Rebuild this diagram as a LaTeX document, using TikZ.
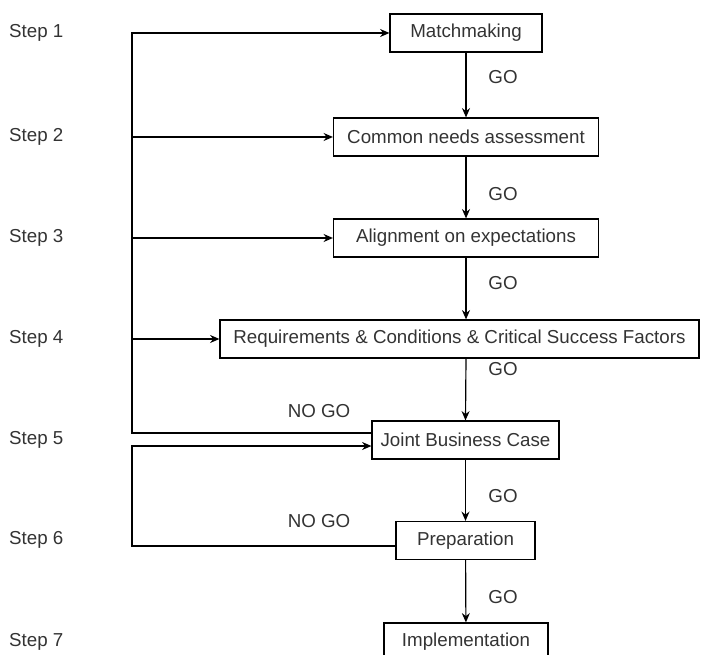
\documentclass[tikz,border=0pt]{standalone}
\usepackage{fontspec}
\setmainfont{Liberation Sans}
\usetikzlibrary{arrows, arrows.meta, positioning}
\tikzstyle{arrow} = [line width=1pt,->,>={Stealth[length=2.8mm,width=2.4mm]}]
\tikzstyle{stagebox} = [draw, line width=1pt, rectangle, minimum height=1.14cm, inner sep=0pt]

\begin{document}
\begin{tikzpicture}[x=0.03cm, y=-0.03cm, font=\fontsize{16}{19}\selectfont, text=black!80]
\useasboundingbox (0,0) rectangle (702,655);

% Step labels
\node[anchor=west, inner sep=0pt] (s1) at (9,33) {Step 1};
\node[anchor=west, inner sep=0pt] (s2) at (9,137) {Step 2};
\node[anchor=west, inner sep=0pt] (s3) at (9,238) {Step 3};
\node[anchor=west, inner sep=0pt] (s4) at (9,339) {Step 4};
\node[anchor=west, inner sep=0pt] (s5) at (9,440) {Step 5};
\node[anchor=west, inner sep=0pt] (s6) at (9,540) {Step 6};
\node[anchor=west, inner sep=0pt] (s7) at (9,642) {Step 7};

% Stages
\node[stagebox, minimum width=4.56cm] (match) at (466,33) {Matchmaking};
\node[stagebox, minimum width=7.95cm] (common) at (466,137) {Common needs assessment};
\node[stagebox, minimum width=7.95cm] (align) at (466,238) {Alignment on expectations};
\node[stagebox, minimum width=14.37cm] (req) at (459.5,339) {Requirements \& Conditions \& Critical Success Factors};
\node[stagebox, minimum width=5.61cm] (joint) at (465.5,440) {Joint Business Case};
\node[stagebox, minimum width=4.17cm] (prep) at (465.5,540.5) {Preparation};
\node[stagebox, minimum width=4.92cm] (impl) at (466,642) {Implementation};

% GO arrows
\draw[arrow] (match) -- (common);
\draw[arrow] (common) -- (align);
\draw[arrow] (align.south) -- (align.south |- req.north);
\draw[arrow] (align.south |- req.south) -- (joint.north);
\draw[arrow] (joint) -- (prep);
\draw[arrow] (prep) -- (impl);

\node (go1) at (503,77) {GO};
\node (go2) at (503,194) {GO};
\node (go3) at (503,283) {GO};
\node (go4) at (503,369) {GO};
\node (go5) at (503,496) {GO};
\node (go6) at (503,597) {GO};

% Feedback lines on the left
\coordinate (top) at (132,33);
\coordinate (nogoA) at (132,433);
\coordinate (backB) at (132,446);
\coordinate (nogoB) at (132,546);

\draw[arrow] (joint.west |- nogoA) -- (nogoA) -- (top) -- (match.west);
\draw[arrow] (top |- common) -- (common.west);
\draw[arrow] (top |- align) -- (align.west);
\draw[arrow] (top |- req) -- (req.west);
\draw[arrow] (prep.west |- nogoB) -- (nogoB) -- (backB) -- (backB -| joint.west);

\node (nogo1) at (319,411) {NO GO};
\node (nogo2) at (319,521) {NO GO};
\end{tikzpicture}
\end{document}
